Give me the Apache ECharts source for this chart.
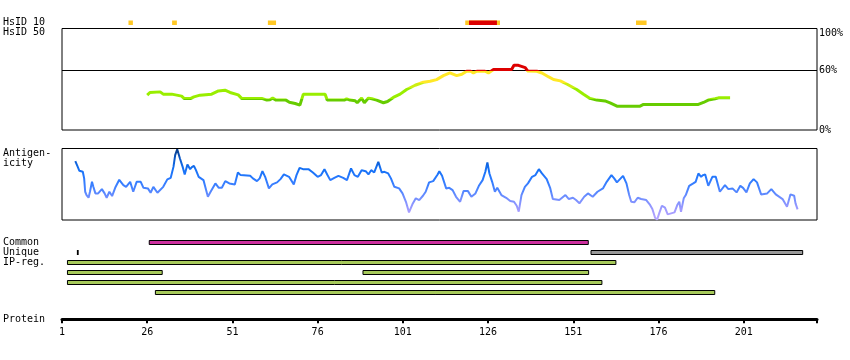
<!DOCTYPE html>
<html><head><meta charset="utf-8">
<script src="https://cdn.jsdelivr.net/npm/echarts@6/dist/echarts.min.js"></script>
<style>html,body{margin:0;padding:0;background:#fff}#c{width:850px;height:360px}</style>
</head><body><div id="c"></div>
<script>
// ---------- data ----------
const axisStart = 1;
const axisEnd = 222.5;
const rulerLabels = [1, 26, 51, 76, 101, 126, 151, 176, 201];
const identityLabels = [0, 60, 100];
const identityThreshold = 60;

// HsID 10 hits [from, to]
const hsid10Low = [[20.5, 21.8], [33.3, 34.7], [61.4, 63.8], [119.3, 129.5], [169.4, 172.5]];
const hsid10High = [[120.4, 128.6]];

// identity (%) along residues [residue, value]
const identity = [[26.0,35.2],[26.8,37.9],[29.8,38.5],[30.7,36.2],[33.2,36.2],[33.7,34.5],[36.1,34.2],[36.8,31.9],[38.8,31.9],[39.7,33.5],[41.5,35.2],[42.0,36.2],[44.9,36.2],[46.9,39.5],[48.8,40.2],[50.3,37.9],[50.8,36.2],[52.7,35.5],[53.7,31.9],[59.6,31.9],[61.1,30.2],[62.0,30.6],[62.8,32.2],[63.8,30.2],[66.7,30.2],[67.7,28.1],[69.4,26.8],[70.8,25.1],[71.8,36.2],[78.2,36.2],[78.8,30.2],[83.8,30.2],[84.5,31.5],[85.5,30.2],[87.0,29.5],[87.6,27.5],[88.9,32.2],[89.7,27.5],[90.9,32.2],[91.9,31.5],[93.3,30.2],[95.3,27.5],[96.5,28.8],[98.2,32.9],[100.2,36.2],[102.1,40.9],[104.6,45.2],[107.0,48.2],[109.0,49.2],[110.9,50.9],[112.9,54.9],[114.8,57.6],[116.8,54.9],[118.3,56.3],[119.7,59.3],[120.9,59.3],[121.7,57.6],[122.7,59.3],[125.1,59.3],[126.1,57.6],[127.6,61.0],[132.9,61.0],[133.6,65.3],[134.9,65.3],[135.4,63.6],[136.9,63.0],[137.6,59.6],[140.3,59.3],[141.8,57.6],[143.8,53.6],[145.2,51.0],[147.2,49.6],[149.2,46.2],[152.0,40.9],[154.0,36.2],[154.5,34.2],[155.9,31.9],[157.9,30.2],[160.3,29.4],[161.8,27.4],[163.8,24.1],[170.6,24.1],[171.6,25.8],[187.7,25.8],[189.2,27.8],[190.6,30.2],[192.6,31.5],[193.6,32.5],[197.0,32.5]];

// antigenicity along residues [residue, score]
const antigenicity = [[4.9,82.3],[5.5,75.7],[6.1,68.8],[7.1,67.4],[7.5,58.2],[7.8,39.5],[8.2,34.9],[8.8,31.1],[9.2,39.5],[9.8,53.4],[10.2,46.4],[10.8,37.2],[11.6,37.2],[12.7,43.2],[13.5,37.2],[14.1,31.1],[14.9,39.5],[15.7,33.5],[16.6,45.0],[17.8,56.2],[19.0,48.8],[19.8,46.4],[21.0,53.4],[21.9,39.5],[22.9,53.4],[24.1,53.4],[24.9,45.0],[26.2,44.2],[27.0,38.1],[27.8,46.4],[29.0,38.1],[30.7,46.4],[31.9,56.8],[32.9,59.0],[33.7,74.3],[34.2,90.7],[34.8,99.0],[35.6,86.1],[36.4,74.3],[37.0,63.7],[37.8,77.7],[38.6,71.1],[39.1,73.9],[39.7,75.7],[40.3,69.7],[41.1,60.4],[42.5,55.8],[43.0,53.4],[43.8,32.5],[44.6,39.5],[46.0,51.2],[47.0,45.0],[47.9,45.0],[48.9,54.4],[50.1,51.2],[51.7,49.8],[52.6,66.5],[53.4,62.8],[56.2,61.8],[57.0,58.2],[58.2,54.4],[59.0,58.2],[59.8,68.3],[60.6,60.4],[61.7,44.2],[62.7,49.8],[64.1,52.6],[65.1,57.2],[66.1,63.7],[67.6,60.4],[69.0,49.8],[69.8,62.8],[70.7,72.9],[71.7,71.1],[73.3,71.1],[74.6,66.5],[76.0,60.4],[77.0,62.8],[78.0,71.1],[78.8,63.7],[79.7,55.8],[80.9,59.0],[82.1,61.8],[83.5,59.0],[84.6,55.8],[85.8,72.1],[86.8,62.8],[87.8,60.4],[88.9,69.7],[90.1,68.3],[90.9,63.7],[91.7,69.7],[92.6,66.5],[93.8,81.3],[94.8,66.5],[95.6,67.4],[96.7,65.1],[97.5,58.2],[98.5,46.4],[99.9,44.2],[100.9,37.2],[101.9,25.5],[102.8,10.7],[103.8,21.9],[104.8,30.3],[105.8,27.9],[106.9,33.9],[107.7,39.5],[108.7,52.6],[109.9,54.4],[111.2,63.7],[111.7,68.3],[112.5,61.8],[113.7,44.2],[114.6,45.0],[115.6,41.8],[116.6,32.5],[117.8,25.5],[118.8,40.4],[120.1,40.4],[121.1,32.5],[122.3,37.2],[123.3,47.8],[124.4,55.8],[125.2,67.4],[125.8,80.5],[126.4,65.1],[127.2,53.4],[128.0,39.5],[128.7,45.0],[129.9,34.9],[131.3,31.1],[132.5,26.5],[133.6,25.5],[134.4,19.9],[135.0,11.6],[135.8,34.9],[136.8,46.4],[137.7,51.2],[138.9,60.4],[139.9,62.8],[140.9,71.1],[141.8,65.1],[143.2,57.2],[144.2,45.0],[145.0,29.3],[146.9,27.9],[148.7,34.9],[149.7,29.3],[150.9,31.1],[151.8,27.9],[152.8,23.3],[154.2,32.5],[155.3,37.2],[156.7,32.5],[158.1,39.5],[159.7,44.2],[160.8,53.4],[162.2,62.8],[163.0,58.2],[163.8,52.6],[164.9,58.2],[165.6,61.8],[166.6,51.2],[167.4,34.9],[168.0,25.5],[168.9,24.7],[169.9,31.1],[170.9,29.3],[172.4,27.9],[173.4,21.9],[174.2,15.3],[175.0,3.2],[175.6,0.5],[176.2,9.3],[177.0,19.9],[177.9,17.2],[178.7,7.9],[179.7,9.3],[180.7,10.7],[181.5,20.9],[182.1,25.5],[182.6,11.6],[183.4,30.3],[184.0,34.9],[185.0,47.8],[186.2,51.2],[186.9,53.4],[187.7,65.1],[188.5,60.4],[189.1,62.8],[189.7,63.7],[190.6,47.8],[191.8,60.4],[192.8,60.4],[194.0,39.5],[195.5,48.8],[196.5,43.2],[197.7,44.2],[198.9,38.6],[200.0,47.8],[200.8,45.0],[201.8,38.6],[202.8,51.2],[203.9,57.2],[204.9,52.6],[206.1,35.8],[207.9,37.2],[209.1,43.2],[210.4,35.8],[212.4,29.3],[213.7,18.5],[214.7,35.8],[215.8,33.9],[216.2,23.3],[216.8,14.9]];

// feature tracks: [trackRow, from, to]
const commonRegions = [[0, 26.6, 155.4]];
const uniqueRegions = [[1, 156.2, 218.3]];
const uniqueMarks = [[1, 5.6, 5.6]];
const ipRegions = [[2, 2.6, 163.5], [3, 2.6, 30.4], [3, 89.3, 155.5], [4, 2.6, 159.4], [5, 28.4, 192.5]];

const sideLabels = ['HsID 10', 'HsID 50', 'Antigen-', 'icity', 'Common', 'Unique', 'IP-reg.', 'Protein'];

// ---------- chart ----------
const FONT = '"DejaVu Sans Mono", monospace';
const chart = echarts.init(document.getElementById('c'), null, {renderer: 'canvas'});
const L = 62, W = 755;

const featureColors = {common: '#CC2F9E', unique: '#999999', mark: '#000000', ip: '#A6C95A'};
const featureData = [].concat(
  commonRegions.map(r => [r[0], r[1], r[2], 'common']),
  uniqueRegions.map(r => [r[0], r[1], r[2], 'unique']),
  uniqueMarks.map(r => [r[0], r[1], r[2], 'mark']),
  ipRegions.map(r => [r[0], r[1], r[2], 'ip'])
);
const hsColors = {low: '#FFC824', high: '#DD0000'};
const hsData = [].concat(
  hsid10Low.map(r => [0.5, r[0], r[1], 'low']),
  hsid10High.map(r => [0.5, r[0], r[1], 'high'])
);

function xAx(i, extra) {
  return Object.assign({type: 'value', gridIndex: i, min: axisStart, max: axisEnd, show: false}, extra || {});
}

const labelY = [22, 32.5, 153, 163.5, 242.7, 252.7, 262.7, 319.5];

const option = {
  animation: false,
  backgroundColor: '#fff',
  grid: [
    {left: L, width: W, top: 20.5, height: 4.5},
    {left: L, width: W, top: 28.5, height: 101.5, show: true, borderColor: '#000', borderWidth: 1},
    {left: L, width: W, top: 148.5, height: 71.5, show: true, borderColor: '#000', borderWidth: 1},
    {left: L, width: W, top: 237.5, height: 60},
    {left: L, width: W, top: 290, height: 29.3}
  ],
  xAxis: [
    xAx(0), xAx(1), xAx(2), xAx(3),
    xAx(4, {
      show: true,
      axisLine: {show: true, lineStyle: {color: '#000', width: 3}},
      axisTick: {show: true, length: 4, lineStyle: {color: '#000', width: 2}, customValues: rulerLabels.concat([axisEnd])},
      axisLabel: {show: true, customValues: rulerLabels, color: '#000', fontFamily: FONT, fontSize: 10, margin: 8},
      splitLine: {show: false}
    })
  ],
  yAxis: [
    {type: 'value', gridIndex: 0, min: 0, max: 1, show: false},
    {type: 'value', gridIndex: 1, min: 0, max: 102.5, position: 'right',
      axisLine: {show: false}, axisTick: {show: false}, splitLine: {show: false},
      axisLabel: {customValues: identityLabels,
        formatter: v => v === 100 ? '{t|' + v + '%}' : v + '%',
        rich: {t: {padding: [4, 0, 0, 0], color: '#000', fontFamily: FONT, fontSize: 10}},
        color: '#000', fontFamily: FONT, fontSize: 10, margin: 2}},
    {type: 'value', gridIndex: 2, min: 0, max: 100, show: false},
    {type: 'value', gridIndex: 3, min: -0.5, max: 5.5, inverse: true, show: false},
    {type: 'value', gridIndex: 4, min: 0, max: 1, show: false}
  ],
  visualMap: [
    {type: 'piecewise', show: false, seriesIndex: 1, dimension: 1,
      pieces: [
        {lt: 31, color: '#66CC00'},
        {gte: 31, lt: 42, color: '#99EE00'},
        {gte: 42, lt: 47, color: '#CCEE11'},
        {gte: 47, lt: identityThreshold, color: '#FFE826'},
        {gte: identityThreshold, color: '#DD0000'}
      ]},
    {type: 'continuous', show: false, seriesIndex: 2, dimension: 1, min: 0, max: 100,
      inRange: {color: ['#B8A8FF', '#A09AFF', '#7890FF', '#4A84FF', '#2A7AFF', '#1470F5', '#0A58C8', '#0A3A80']}}
  ],
  series: [
    {type: 'custom', xAxisIndex: 0, yAxisIndex: 0, data: hsData, silent: true,
      renderItem: function (params, api) {
        const p1 = api.coord([api.value(1), 0]);
        const p2 = api.coord([api.value(2), 1]);
        return {type: 'rect', shape: {x: p1[0], y: p2[1], width: p2[0] - p1[0], height: p1[1] - p2[1]},
          style: {fill: hsColors[api.value(3)]}};
      }},
    {type: 'line', xAxisIndex: 1, yAxisIndex: 1, data: identity, showSymbol: false, silent: true,
      lineStyle: {width: 3}, z: 3,
      markLine: {silent: true, symbol: 'none', label: {show: false}, lineStyle: {color: '#000', width: 1, type: 'solid'},
        data: [{yAxis: identityThreshold}], z: 2}},
    {type: 'line', xAxisIndex: 2, yAxisIndex: 2, data: antigenicity, showSymbol: false, silent: true,
      lineStyle: {width: 2}},
    {type: 'custom', xAxisIndex: 3, yAxisIndex: 3, data: featureData, silent: true,
      renderItem: function (params, api) {
        const kind = api.value(3);
        const row = api.value(0);
        const p1 = api.coord([api.value(1), row]);
        const p2 = api.coord([api.value(2), row]);
        if (kind === 'mark') {
          return {type: 'rect', shape: {x: p1[0] - 0.8, y: p1[1] - 2.5, width: 1.8, height: 5}, style: {fill: '#000'}};
        }
        return {type: 'rect', shape: {x: p1[0], y: p1[1] - 2, width: p2[0] - p1[0], height: 4},
          style: {fill: featureColors[kind], stroke: '#000', lineWidth: 1}};
      }}
  ],
  graphic: sideLabels.map((t, i) => ({
    type: 'text', x: 3, y: labelY[i], silent: true,
    style: {text: t, font: '10px ' + FONT, fill: '#000', verticalAlign: 'middle'}
  }))
};
chart.setOption(option);
</script>
</body></html>
